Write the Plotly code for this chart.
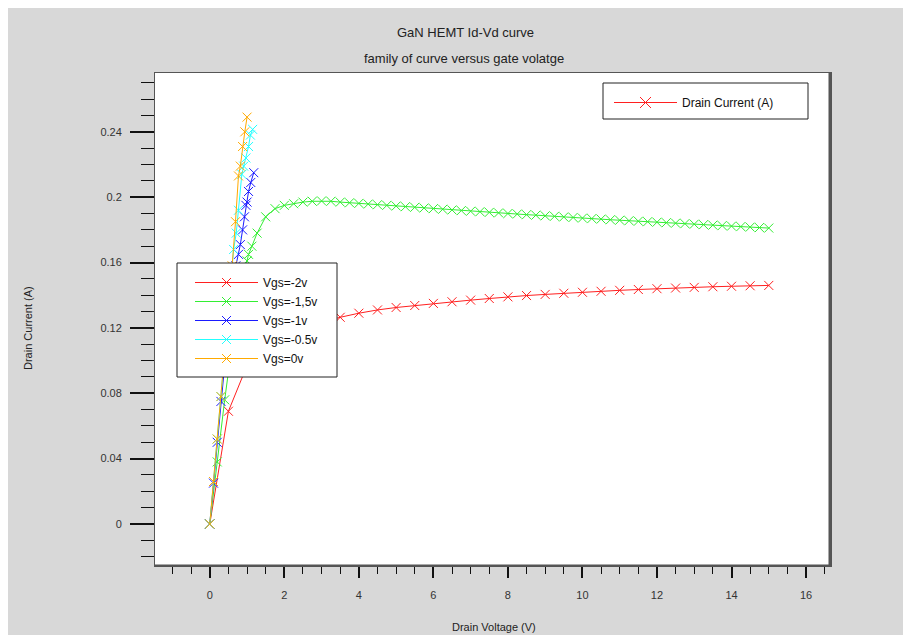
import plotly.graph_objects as go

# ---------------- data ----------------
vd_m2 = [0, 0.5, 1.0, 1.5, 2.0, 2.5, 3.0, 3.5, 4.0, 4.5, 5.0, 5.5, 6.0, 6.5, 7.0, 7.5,
         8.0, 8.5, 9.0, 9.5, 10.0, 10.5, 11.0, 11.5, 12.0, 12.5, 13.0, 13.5, 14.0, 14.5, 15.0]
id_m2 = [0, 0.069, 0.097, 0.107, 0.114, 0.119, 0.1235, 0.1265, 0.129, 0.131, 0.1325, 0.1337,
         0.135, 0.136, 0.137, 0.138, 0.139, 0.1398, 0.1405, 0.1412, 0.1418, 0.1424, 0.143,
         0.1435, 0.144, 0.1444, 0.1448, 0.1452, 0.1455, 0.1458, 0.146]

vd_m15 = [0, 0.2, 0.4, 0.6, 0.8, 0.9, 1.0, 1.04, 1.13, 1.27, 1.5, 1.75, 2.0, 2.25, 2.5, 2.75,
          3.0, 3.25, 3.5, 3.75, 4.0, 4.25, 4.5, 4.75, 5.0, 5.25, 5.5, 5.75, 6.0, 6.25, 6.5,
          6.75, 7.0, 7.25, 7.5, 7.75, 8.0, 8.25, 8.5, 8.75, 9.0, 9.25, 9.5, 9.75, 10.0, 10.25,
          10.5, 10.75, 11.0, 11.25, 11.5, 11.75, 12.0, 12.25, 12.5, 12.75, 13.0, 13.25, 13.5,
          13.75, 14.0, 14.25, 14.5, 14.75, 15.0]
id_m15 = [0, 0.038, 0.076, 0.11, 0.14, 0.152, 0.161, 0.165, 0.17, 0.178, 0.188, 0.193, 0.195,
          0.196, 0.197, 0.1975, 0.1977, 0.1975, 0.197, 0.1966, 0.1962, 0.1958, 0.1954, 0.195,
          0.1946, 0.1942, 0.1938, 0.1934, 0.193, 0.1926, 0.1922, 0.1918, 0.1914, 0.1911,
          0.1907, 0.1904, 0.19, 0.1897, 0.1893, 0.189, 0.1886, 0.1883, 0.1879, 0.1876, 0.1872,
          0.1869, 0.1866, 0.1862, 0.1859, 0.1856, 0.1853, 0.185, 0.1847, 0.1844, 0.1841,
          0.1838, 0.1835, 0.1832, 0.1829, 0.1826, 0.1823, 0.182, 0.1817, 0.1814, 0.1811]

vd_m1 = [0, 0.1, 0.2, 0.3, 0.4, 0.5, 0.6, 0.7, 0.77, 0.82, 0.88, 0.93, 0.97, 1.0, 1.04, 1.1, 1.18]
id_m1 = [0, 0.025, 0.05, 0.075, 0.1, 0.124, 0.146, 0.158, 0.165, 0.171, 0.18, 0.188, 0.195,
         0.197, 0.2035, 0.209, 0.215]

vd_m05 = [0, 0.1, 0.2, 0.3, 0.4, 0.5, 0.6, 0.64, 0.71, 0.77, 0.86, 0.91, 0.97, 1.04, 1.09, 1.15]
id_m05 = [0, 0.026, 0.052, 0.078, 0.103, 0.128, 0.155, 0.168, 0.178, 0.192, 0.214, 0.219,
          0.224, 0.231, 0.238, 0.2415]

vd_0 = [0, 0.1, 0.2, 0.3, 0.4, 0.5, 0.6, 0.69, 0.77, 0.82, 0.88, 0.94, 1.0]
id_0 = [0, 0.026, 0.052, 0.078, 0.104, 0.13, 0.158, 0.185, 0.213, 0.219, 0.231, 0.24, 0.249]

series_names = ["Vgs=-2v", "Vgs=-1,5v", "Vgs=-1v", "Vgs=-0.5v", "Vgs=0v"]
series_x = [vd_m2, vd_m15, vd_m1, vd_m05, vd_0]
series_y = [id_m2, id_m15, id_m1, id_m05, id_0]
series_colors = ["#ff2020", "#33ee33", "#1a1aff", "#22ffff", "#ffaa00"]

title_main = "GaN HEMT Id-Vd curve"
title_sub = "family of curve versus gate volatge"
x_title = "Drain Voltage (V)"
y_title = "Drain Current (A)"
legend2_name = "Drain Current (A)"

# ---------------- geometry (screen pixels; page body has an 8px margin) ----------------
OFF = 8
W, H = 911, 635
L, R, T, B = 155, 831, 73, 566          # plot area in screen pixels
pw, ph = R - L, B - T


def px(xp):
    return (xp - L) / pw


def py(yp):
    return (B - yp) / ph


FONT = "Liberation Sans, Arial, sans-serif"

fig = go.Figure()
for name, xs, ys, c in zip(series_names, series_x, series_y, series_colors):
    fig.add_trace(go.Scatter(
        x=xs, y=ys, name=name, mode="lines+markers",
        line=dict(color=c, width=1),
        marker=dict(symbol="x-thin-open", size=9, color=c, line=dict(color=c, width=1)),
        legend="legend",
    ))

fig.add_trace(go.Scatter(
    x=[None], y=[None], name=legend2_name, mode="lines+markers",
    line=dict(color="#ff2020", width=1),
    marker=dict(symbol="x-thin-open", size=11, color="#ff2020", line=dict(color="#ff2020", width=1)),
    legend="legend2",
))

shapes = [
    # heavier right/bottom frame
    dict(type="line", xref="paper", yref="paper", x0=px(830), x1=px(830), y0=py(566.5), y1=py(73),
         line=dict(color="#555555", width=3), layer="above"),
    dict(type="line", xref="paper", yref="paper", x0=px(155), x1=px(831.5), y0=py(565.5), y1=py(565.5),
         line=dict(color="#555555", width=2), layer="above"),
    # legend boxes
    dict(type="rect", xref="paper", yref="paper", x0=px(177), x1=px(337), y0=py(377), y1=py(263),
         fillcolor="white", line=dict(color="#222222", width=1), layer="above"),
    dict(type="rect", xref="paper", yref="paper", x0=px(603), x1=px(808), y0=py(119), y1=py(83),
         fillcolor="white", line=dict(color="#222222", width=1), layer="above"),
]

annotations = [
    dict(text=title_main, x=px(465), y=py(32), xref="paper", yref="paper", showarrow=False,
         font=dict(family=FONT, size=13, color="#222222"), xanchor="center", yanchor="middle"),
    dict(text=title_sub, x=px(464), y=py(59), xref="paper", yref="paper", showarrow=False,
         font=dict(family=FONT, size=13, color="#222222"), xanchor="center", yanchor="middle"),
    dict(text=x_title, x=px(494), y=py(627), xref="paper", yref="paper", showarrow=False,
         font=dict(family=FONT, size=11, color="#222222"), xanchor="center", yanchor="middle"),
    dict(text=y_title, x=px(28), y=py(328), xref="paper", yref="paper", showarrow=False,
         textangle=-90, font=dict(family=FONT, size=11, color="#222222"),
         xanchor="center", yanchor="middle"),
]

fig.update_layout(
    width=W, height=H,
    margin=dict(l=L - OFF, r=W + OFF - R, t=T - OFF, b=H + OFF - B, autoexpand=False),
    paper_bgcolor="#d8d8d8", plot_bgcolor="white",
    font=dict(family=FONT, size=11, color="#333333"),
    showlegend=True,
    shapes=shapes, annotations=annotations,
    legend=dict(x=px(190), y=py(268), xanchor="left", yanchor="top",
                bgcolor="rgba(0,0,0,0)", borderwidth=0,
                font=dict(family=FONT, size=12, color="#111111"),
                itemwidth=63, tracegroupgap=0),
    legend2=dict(x=px(609), y=py(88), xanchor="left", yanchor="top",
                 bgcolor="rgba(0,0,0,0)", borderwidth=0,
                 font=dict(family=FONT, size=12, color="#111111"),
                 itemwidth=63),
    xaxis=dict(range=[-1.47, 16.67], tickmode="linear", tick0=0, dtick=2,
               ticks="outside", ticklen=11, tickwidth=2, tickcolor="#111111",
               showgrid=False, zeroline=False, showline=True, linecolor="#555555",
               linewidth=1, mirror=True, automargin=False,
               tickfont=dict(family=FONT, size=11, color="#333333"),
               ticklabelstandoff=8,
               minor=dict(dtick=0.5, tick0=0, ticks="outside", ticklen=7, tickwidth=1,
                          tickcolor="#111111", showgrid=False)),
    yaxis=dict(range=[-0.0257, 0.276], tickmode="array",
               tickvals=[0, 0.04, 0.08, 0.12, 0.16, 0.2, 0.24],
               ticktext=["0", "0.04", "0.08", "0.12", "0.16", "0.2", "0.24"],
               ticks="outside", ticklen=24, tickwidth=2, tickcolor="#111111",
               showgrid=False, zeroline=False, showline=True, linecolor="#555555",
               linewidth=1, mirror=True, automargin=False,
               tickfont=dict(family=FONT, size=11, color="#333333"),
               ticklabelstandoff=6,
               minor=dict(dtick=0.01, tick0=0, ticks="outside", ticklen=13, tickwidth=1,
                          tickcolor="#111111", showgrid=False)),
)

fig.write_html("out.html")
